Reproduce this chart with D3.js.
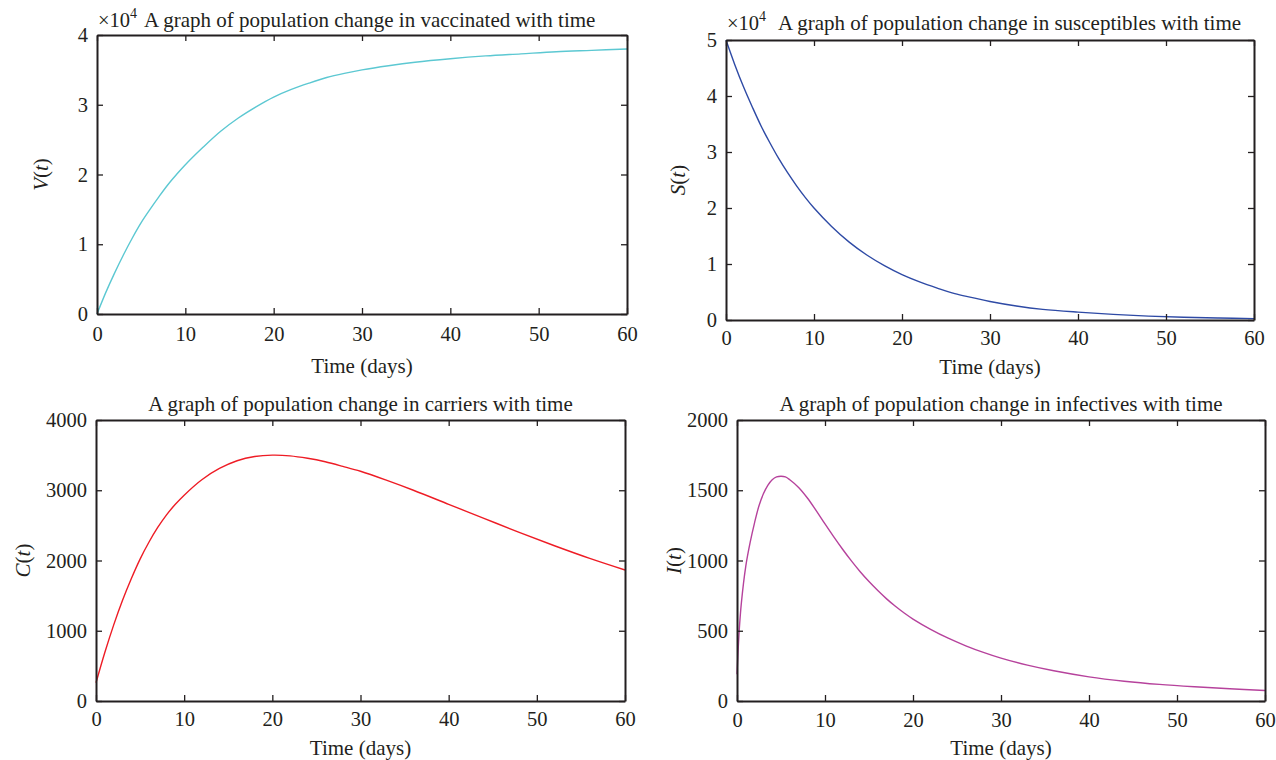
<!DOCTYPE html>
<html>
<head>
<meta charset="utf-8">
<script src="https://cdn.jsdelivr.net/npm/d3@7"></script>
<style>
  body { margin: 0; background: #fff; }
  svg text { font-family: "Liberation Serif", "DejaVu Serif", serif; fill: #231f20; }
  .axis path, .axis line { stroke: #231f20; }
  .axis path { stroke-width: 2; }
  .axis line { stroke-width: 1.3; }
</style>
</head>
<body>
<svg id="chart"></svg>
<script>
// time points (days)
const days = [0, 1, 2, 3, 4, 5, 6, 7, 8, 9, 10, 12, 14, 16, 18, 20, 22, 24, 26, 28, 30, 33, 36, 40, 44, 48, 52, 56, 60];
const daysI = [0, 0.25, 0.5, 1, 1.5, 2, 2.5, 3, 3.5, 4, 4.5, 5, 5.5, 6, 7, 8, 9, 10, 11, 12, 13, 14, 15, 16, 17, 18, 19, 20, 22, 24, 26, 28, 30, 33, 36, 40, 44, 48, 52, 56, 60];

// series values
const vaccinated = [0, 3100, 5900, 8500, 10900, 13100, 15000, 16800, 18500, 20000, 21400, 23900, 26200, 28100, 29700, 31100, 32200, 33100, 33900, 34500, 35000, 35600, 36100, 36600, 37000, 37300, 37600, 37800, 38000];
const susceptibles = [50000, 45600, 41600, 38000, 34600, 31600, 28800, 26300, 24000, 21900, 20000, 16700, 13900, 11600, 9700, 8100, 6800, 5700, 4700, 4000, 3300, 2500, 1900, 1400, 1000, 700, 500, 350, 250];
const carriers = [260, 690, 1080, 1430, 1740, 2020, 2260, 2470, 2650, 2800, 2930, 3150, 3310, 3420, 3480, 3500, 3490, 3455, 3405, 3340, 3270, 3140, 3000, 2800, 2600, 2400, 2210, 2030, 1865];
const infectives = [190, 500, 700, 960, 1130, 1270, 1390, 1475, 1535, 1575, 1595, 1600, 1595, 1575, 1520, 1445, 1355, 1260, 1168, 1080, 997, 920, 850, 786, 727, 674, 626, 583, 510, 447, 393, 346, 305, 255, 215, 172, 141, 118, 101, 87, 75];

const xTicks = [0, 10, 20, 30, 40, 50, 60];
const vTicks = [0, 1, 2, 3, 4];
const sTicks = [0, 1, 2, 3, 4, 5];
const cTicks = [0, 1000, 2000, 3000, 4000];
const iTicks = [0, 500, 1000, 1500, 2000];

const titles = [
  'A graph of population change in vaccinated with time',
  'A graph of population change in susceptibles with time',
  'A graph of population change in carriers with time',
  'A graph of population change in infectives with time'
];

const svg = d3.select('#chart')
  .attr('width', 1276)
  .attr('height', 760);

function drawPanel(cfg) {
  const w = cfg.right - cfg.left;
  const h = cfg.bottom - cfg.top;

  const xScale = d3.scaleLinear().domain([0, 60]).range([0, w]);
  const yScale = d3.scaleLinear().domain(cfg.yDomain).range([h, 0]);

  const g = svg.append('g')
    .attr('transform', `translate(${cfg.left}, ${cfg.top})`);

  // curve
  const line = d3.line()
    .x((d, i) => xScale(cfg.x[i]))
    .y(d => yScale(d / cfg.scale))
    .curve(d3.curveCatmullRom.alpha(0.5));

  g.append('path')
    .datum(cfg.y)
    .attr('fill', 'none')
    .attr('stroke', cfg.color)
    .attr('stroke-width', 1.4)
    .attr('d', line);

  // axes, ticks pointing inward on all four sides
  g.append('g')
    .attr('class', 'axis')
    .attr('transform', `translate(0, ${h})`)
    .call(d3.axisBottom(xScale).tickValues(xTicks).tickSizeInner(-6).tickSizeOuter(0).tickPadding(cfg.xPad))
    .call(a => a.selectAll('text').attr('font-size', 20.5).attr('font-family', null));

  g.append('g')
    .attr('class', 'axis')
    .call(d3.axisTop(xScale).tickValues(xTicks).tickSizeInner(-6).tickSizeOuter(0).tickFormat(''));

  g.append('g')
    .attr('class', 'axis')
    .call(d3.axisLeft(yScale).tickValues(cfg.yTicks).tickSizeInner(-6).tickSizeOuter(0).tickPadding(9).tickFormat(d3.format('d')))
    .call(a => a.selectAll('text').attr('font-size', 20.5).attr('font-family', null));

  g.append('g')
    .attr('class', 'axis')
    .attr('transform', `translate(${w}, 0)`)
    .call(d3.axisRight(yScale).tickValues(cfg.yTicks).tickSizeInner(-6).tickSizeOuter(0).tickFormat(''));

  g.selectAll('.axis text').attr('fill', '#231f20');

  // x axis label
  g.append('text')
    .attr('x', w / 2)
    .attr('y', h + cfg.xLabelDy)
    .attr('text-anchor', 'middle')
    .attr('font-size', 21)
    .text('Time (days)');

  // y axis label
  const yl = g.append('text')
    .attr('transform', `translate(${cfg.yLabelX}, ${h / 2}) rotate(-90)`)
    .attr('text-anchor', 'middle')
    .attr('font-size', 21);
  yl.append('tspan').attr('font-style', 'italic').text(cfg.yLabel);
  yl.append('tspan').text('(');
  yl.append('tspan').attr('font-style', 'italic').text('t');
  yl.append('tspan').text(')');

  // title
  if (cfg.exponent) {
    const ex = g.append('text')
      .attr('x', 1)
      .attr('y', cfg.titleY)
      .attr('font-size', 20.5);
    ex.append('tspan').text('\u00d710');
    ex.append('tspan').attr('dy', -9).attr('font-size', 14).text('4');

    g.append('text')
      .attr('x', cfg.titleX)
      .attr('y', cfg.titleY)
      .attr('font-size', 21)
      .text(cfg.title);
  } else {
    g.append('text')
      .attr('x', w / 2)
      .attr('y', cfg.titleY)
      .attr('text-anchor', 'middle')
      .attr('font-size', 21)
      .text(cfg.title);
  }
}

drawPanel({
  left: 97, right: 627, top: 35, bottom: 314,
  x: days, y: vaccinated, scale: 10000, yDomain: [0, 4], yTicks: vTicks,
  color: '#5cc8d2', yLabel: 'V', yLabelX: -49,
  title: titles[0], exponent: true, titleX: 47, titleY: -8,
  xPad: 12, xLabelDy: 59
});

drawPanel({
  left: 726, right: 1254, top: 40, bottom: 320,
  x: days, y: susceptibles, scale: 10000, yDomain: [0, 5], yTicks: sTicks,
  color: '#2e4aa5', yLabel: 'S', yLabelX: -41,
  title: titles[1], exponent: true, titleX: 52, titleY: -10,
  xPad: 10, xLabelDy: 54
});

drawPanel({
  left: 96, right: 625, top: 420, bottom: 701,
  x: days, y: carriers, scale: 1, yDomain: [0, 4000], yTicks: cTicks,
  color: '#ee1c25', yLabel: 'C', yLabelX: -66,
  title: titles[2], exponent: false, titleY: -9,
  xPad: 10, xLabelDy: 54
});

drawPanel({
  left: 737, right: 1265, top: 420, bottom: 701,
  x: daysI, y: infectives, scale: 1, yDomain: [0, 2000], yTicks: iTicks,
  color: '#b6429c', yLabel: 'I', yLabelX: -56,
  title: titles[3], exponent: false, titleY: -9,
  xPad: 11, xLabelDy: 54
});
</script>
</body>
</html>
